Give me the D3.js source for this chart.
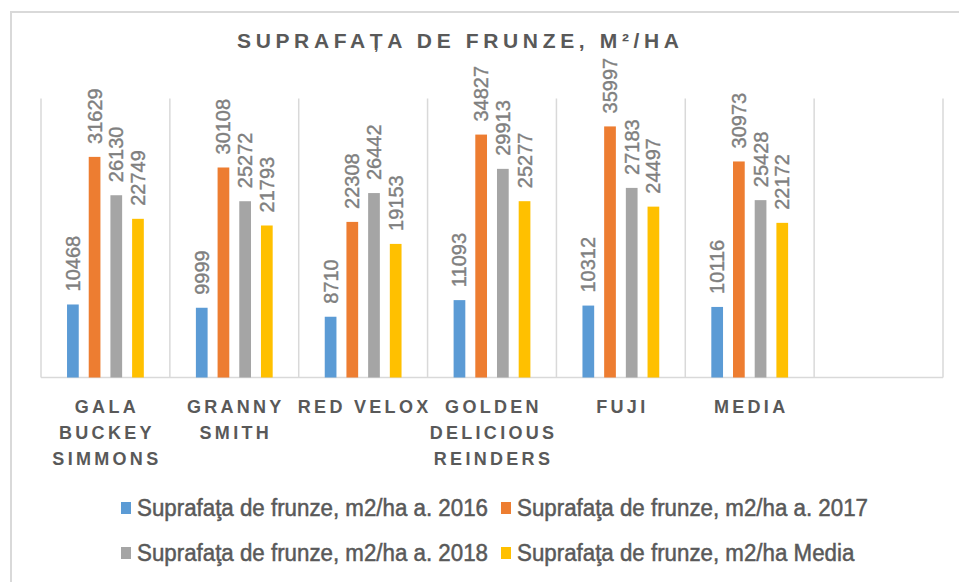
<html>
<head>
<meta charset="utf-8">
<script src="https://d3js.org/d3.v7.min.js"></script>
<style>
  body { margin: 0; background: #fff; }
  text { font-family: "Liberation Sans", Arial, sans-serif; }
</style>
</head>
<body>
<svg id="vis"></svg>
<script>
  // data
  const categories = ['GALA BUCKEY SIMMONS', 'GRANNY SMITH', 'RED VELOX',
                      'GOLDEN DELICIOUS REINDERS', 'FUJI', 'MEDIA', ''];
  const categoryLines = [['GALA', 'BUCKEY', 'SIMMONS'], ['GRANNY', 'SMITH'], ['RED VELOX'],
                         ['GOLDEN', 'DELICIOUS', 'REINDERS'], ['FUJI'], ['MEDIA'], []];
  const seriesNames = ['Suprafaţa de frunze, m2/ha a. 2016', 'Suprafaţa de frunze, m2/ha a. 2017',
                       'Suprafaţa de frunze, m2/ha a. 2018', 'Suprafaţa de frunze, m2/ha Media'];
  const v2016 = [10468, 9999, 8710, 11093, 10312, 10116];
  const v2017 = [31629, 30108, 22308, 34827, 35997, 30973];
  const v2018 = [26130, 25272, 26442, 29913, 27183, 25428];
  const vMedia = [22749, 21793, 19153, 25277, 24497, 22172];
  const colors = ['#5b9bd5', '#ed7d31', '#a5a5a5', '#ffc000'];

  const width = 959, height = 582;
  const plotLeft = 41, plotRight = 943, plotTop = 98.5, plotBottom = 377.5;

  let svg = d3.select('#vis').attr('width', width).attr('height', height);

  // chart area border (cut off at right and bottom)
  svg.append('path')
    .attr('d', `M11,${height} L11,12 L${width},12`)
    .attr('fill', 'none').attr('stroke', '#d9d9d9').attr('stroke-width', 2);

  let x0 = d3.scaleBand().domain(categories).range([plotLeft, plotRight]).padding(0);
  let x1 = d3.scaleBand().domain(seriesNames).range([0, x0.bandwidth()])
    .paddingInner(0.46).paddingOuter(1.2);
  let y = d3.scaleLinear().domain([0, 40000]).range([plotBottom, plotTop]);

  // vertical gridlines at category boundaries
  let bounds = categories.map(c => x0(c)).concat([plotRight]);
  svg.selectAll('.grid').data(bounds).enter().append('line')
    .attr('x1', d => d).attr('x2', d => d)
    .attr('y1', y(40000)).attr('y2', plotBottom)
    .attr('stroke', '#d9d9d9').attr('stroke-width', 1.5);

  svg.append('line')
    .attr('x1', plotLeft).attr('x2', plotRight)
    .attr('y1', plotBottom).attr('y2', plotBottom)
    .attr('stroke', '#d9d9d9').attr('stroke-width', 1.5);

  // bars
  let allSeries = [v2016, v2017, v2018, vMedia];
  let rows = [];
  allSeries.forEach((vals, s) => {
    vals.forEach((v, i) => rows.push({ cat: categories[i], series: seriesNames[s], s: s, value: v }));
  });

  svg.selectAll('.bar').data(rows).enter().append('rect')
    .attr('x', d => x0(d.cat) + x1(d.series))
    .attr('width', x1.bandwidth())
    .attr('y', d => y(d.value))
    .attr('height', d => plotBottom - y(d.value))
    .attr('fill', d => colors[d.s]);

  // rotated value labels
  svg.selectAll('.lbl').data(rows).enter().append('text')
    .attr('transform', d => {
      let cx = x0(d.cat) + x1(d.series) + x1.bandwidth() / 2 + 7;
      let cy = y(d.value) - 13;
      return `translate(${cx},${cy}) rotate(-90)`;
    })
    .attr('font-size', 20)
    .attr('fill', '#7f7f7f')
    .attr('stroke', '#7f7f7f').attr('stroke-width', 0.4)
    .text(d => d.value);

  // category labels
  categories.forEach((c, i) => {
    let t = svg.append('text')
      .attr('text-anchor', 'middle')
      .attr('font-size', 18).attr('font-weight', 'bold')
      .attr('letter-spacing', 3.3)
      .attr('fill', '#595959');
    categoryLines[i].forEach((line, k) => {
      t.append('tspan')
        .attr('x', x0(c) + x0.bandwidth() / 2 + 1.5)
        .attr('y', 413 + k * 26)
        .text(line);
    });
  });

  // title
  svg.append('text')
    .attr('x', 458).attr('y', 48)
    .attr('text-anchor', 'middle')
    .attr('font-size', 21).attr('font-weight', 'bold')
    .attr('fill', '#595959')
    .attr('textLength', 442).attr('lengthAdjust', 'spacing')
    .text('SUPRAFAȚA DE FRUNZE, M²/HA');

  // legend, two rows of two
  const legendX = [121, 501], legendY = [516, 561];
  seriesNames.forEach((name, s) => {
    let lx = legendX[s % 2], ly = legendY[Math.floor(s / 2)];
    svg.append('rect')
      .attr('x', lx).attr('y', ly - 14)
      .attr('width', 10).attr('height', 12)
      .attr('fill', colors[s]);
    let t = svg.append('text')
      .attr('x', lx + 16).attr('y', ly)
      .attr('font-size', 23)
      .attr('fill', '#595959')
      .attr('stroke', '#595959').attr('stroke-width', 0.5)
      .text(name);
    let w = t.node().getComputedTextLength();
    t.attr('textLength', w * 0.97).attr('lengthAdjust', 'spacingAndGlyphs');
  });
</script>
</body>
</html>
